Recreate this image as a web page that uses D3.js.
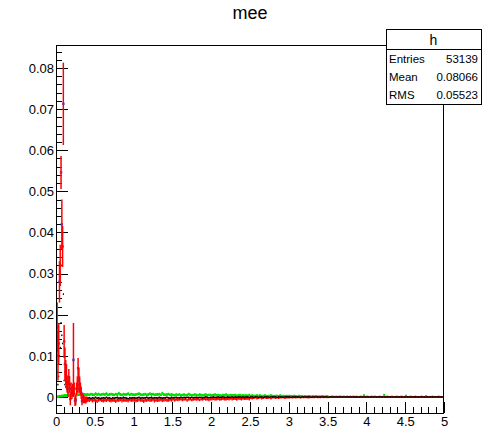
<!DOCTYPE html>
<html><head><meta charset="utf-8">
<script src="https://cdn.jsdelivr.net/npm/d3@7"></script>
<style>
body{margin:0;background:#fff}
svg{display:block}
text{font-family:"Liberation Sans",Arial,Helvetica,sans-serif;fill:#000}
</style>
</head><body>
<svg id="c" width="491" height="431"></svg>
<script>
// ---------------- DATA ----------------
const UNIT = 1e-4;                 // histogram contents below are in units of 1e-4
const title = "mee";
const statsName = "h";
const statsLabels = ["Entries", "Mean", "RMS"];
const statsValues = ["53139", "0.08066", "0.05523"];

const xTicks = [0, 0.5, 1, 1.5, 2, 2.5, 3, 3.5, 4, 4.5, 5];
const xTickLabels = ["0", "0.5", "1", "1.5", "2", "2.5", "3", "3.5", "4", "4.5", "5"];
const yTicks = [0, 0.01, 0.02, 0.03, 0.04, 0.05, 0.06, 0.07, 0.08];
const yTickLabels = ["0", "0.01", "0.02", "0.03", "0.04", "0.05", "0.06", "0.07", "0.08"];

// fine binning of the low-mass region: 0.00 - 0.40, width 0.01
const peakStart = 0.0, peakWidth = 0.01;
const redPeak = [120,170,100,130,280,320,546,420,366,713, 135,80,60,50,30,20,48,30,-5,20,
                 10,17,90,20,-10,-8,20,30,70,40, 30,20,10,-10,0,-5,-6,-8,-7,-6];
const redPeakErr = [90,60,60,50,50,50,40,60,50,100, 40,40,30,30,20,20,20,20,15,15,
                    15,15,90,15,12,12,15,20,25,30, 20,15,15,10,10,10,8,8,8,7];
const greenPeak = [0,0,1,1,2,2,2,3,2,3, 3,4,3,4,3,4,5,4,3,5, 4,5,4,5,6,5,4,6,5,6, 5,6,7,5,6,5,7,6,5,6];
const blackPeak = [40,60,30,50,100,120,180,150,130,250, 40,30,25,20,15,10,20,15,0,10,
                   5,8,40,10,-5,-4,10,15,22,20, 15,10,5,-5,0,-3,-3,-4,-3,-3];

// coarse binning above: 0.40 - 5.00, width 0.02
const tailStart = 0.40, tailWidth = 0.02;
const greenTail = [
 6,5,7,6,5,8,6,7,5,6,  7,6,8,5,6,7,6,5,7,6,  9,6,5,7,6,6,8,5,7,6,  5,6,7,8,6,5,6,7,5,6,
 8,6,7,5,6,6,7,5,9,6,  5,6,7,5,6,5,4,6,5,6,  4,5,6,4,5,7,5,4,5,6,  5,4,6,5,4,5,6,4,5,5,
 4,5,6,4,5,4,3,5,4,6,  4,3,5,4,4,5,3,4,5,3,  4,3,4,3,5,3,4,3,3,4,  3,4,2,3,4,3,2,3,4,3,
 2,3,3,2,4,2,3,2,3,2,  3,2,2,3,2,1,3,2,2,1,  2,1,2,2,1,2,1,2,1,1,  1,2,1,1,2,1,0,1,1,0,
 1,0,1,1,0,1,0,1,0,1,  0,1,0,1,0,0,1,0,4,0,  1,0,0,1,0,1,0,0,1,0,  0,5,0,1,0,0,1,0,0,1,
 0,0,1,0,0,3,0,0,1,0,  0,1,0,0,0,1,0,0,2,0,  0,0,1,0,0,0,1,0,0,0];
const redTail = [
 -7,-8,-6,-9,-7,-8,-10,-7,-6,-8,  -9,-7,-8,-6,-8,-9,-7,-8,-10,-7,  -8,-6,-9,-7,-8,-7,-9,-6,-8,-7,
 -7,-9,-8,-6,-7,-8,-10,-7,-8,-6,  -8,-7,-6,-9,-7,-8,-7,-6,-8,-7,  -6,-8,-7,-6,-7,-5,-8,-6,-7,-6,
 -5,-7,-6,-5,-8,-6,-5,-7,-6,-5,  -6,-5,-7,-5,-6,-4,-6,-5,-7,-5,  -5,-4,-6,-5,-4,-6,-5,-4,-5,-6,
 -4,-5,-3,-5,-4,-4,-6,-3,-4,-5,  -3,-4,-4,-3,-5,-3,-4,-3,-2,-4,  -3,-2,-4,-3,-2,-3,-3,-2,-4,-2,
 -2,-3,-2,-3,-2,-2,-1,-3,-2,-2,  -2,-1,-2,-1,-2,-1,-1,-2,-1,-1,  -1,-1,-2,-1,0,-1,-1,0,-1,-1,
 -1,0,-1,0,-1,-1,0,-1,0,0,  0,-1,0,0,-1,0,0,-1,0,0,  0,0,-1,0,0,0,0,-1,0,0,
 0,0,0,-1,0,0,0,0,0,-1,  0,0,0,0,0,-1,0,0,0,0,  0,0,0,0,0,0,-1,0,0,0,
 0,0,0,0,0,0,0,0,0,0,  0,0,0,0,0,0,0,0,0,0];
const blackTail = [
 -3,-2,-4,-2,-3,-1,-3,-2,-4,-3,  -2,-3,-1,-3,-2,-4,-2,-3,-2,-1,  -3,-2,-3,-1,-2,-3,-4,-2,-3,-2,
 -2,-3,-2,-1,-3,-2,-3,-2,-1,-3,  -2,-1,-3,-2,-2,-3,-1,-2,-3,-2,  -2,-1,-2,-3,-1,-2,-2,-1,-2,-2,
 -1,-2,-1,-2,-1,-1,-2,-1,-2,-1,  -1,-2,-1,-1,-2,-1,0,-1,-2,-1,  -1,0,-1,-1,0,-1,-1,0,-1,-1,
 0,-1,-1,0,-1,0,-1,0,0,-1,  0,-1,0,0,-1,0,0,-1,0,0,  -1,0,0,-1,0,0,0,-1,0,0,
 0,0,-1,0,0,0,-1,0,0,0,  0,-1,0,0,0,0,0,-1,0,0,  0,0,0,0,-1,0,0,0,0,0,
 0,0,0,0,0,-1,0,0,0,0,  0,0,0,0,0,0,0,0,0,0,  0,0,0,0,0,0,0,0,0,0,
 0,0,0,0,0,0,0,0,0,0,  0,0,0,0,0,0,0,0,0,0,  0,0,0,0,0,0,0,0,0,0,
 0,0,0,0,0,0,0,0,0,0,  0,0,0,0,0,0,0,0,0,0];

// typical error-bar half heights (units 1e-4) read per mass zone
const errZoneEdges = [0, 0.4, 1.5, 2.5, 3.5, 5.0];
const greenErrZones = [2.5, 3.5, 3, 2, 1];
const blackErrZones = [2, 1.5, 1, 0.5, 0.3];
const redErrZones   = [0, 4.5, 3.5, 2, 0.8];

// ---------------- CHART ----------------
const svg = d3.select("#c");
const frame = {l: 56, r: 444, t: 45, b: 413};
const x = d3.scaleLinear().domain([0, 5]).range([frame.l, frame.r]);
const y = d3.scaleLinear().domain([-0.0039, 0.0856]).range([frame.b, frame.t]);

function zoneErr(xc, zones) {
  for (let i = 0; i < errZoneEdges.length - 1; i++)
    if (xc >= errZoneEdges[i] && xc < errZoneEdges[i + 1]) return zones[i];
  return zones[zones.length - 1];
}
function bins(peakVals, peakErrs, tailVals, zones) {
  const out = [];
  peakVals.forEach((v, i) => {
    const x0 = peakStart + i * peakWidth, x1 = x0 + peakWidth, xc = (x0 + x1) / 2;
    out.push({x0, x1, xc, v: v * UNIT, e: (peakErrs ? peakErrs[i] : zoneErr(xc, zones)) * UNIT});
  });
  tailVals.forEach((v, i) => {
    const x0 = tailStart + i * tailWidth, x1 = x0 + tailWidth, xc = (x0 + x1) / 2;
    out.push({x0, x1, xc, v: v * UNIT, e: zoneErr(xc, zones) * UNIT});
  });
  return out;
}
const greenBins = bins(greenPeak, null, greenTail, greenErrZones);
const blackBins = bins(blackPeak, null, blackTail, blackErrZones);
const redBins = bins(redPeak, redPeakErr, redTail, redErrZones);

// axes first (histograms are painted over them)
const yMinor = d3.range(-0.002, 0.0857, 0.002).filter(v => Math.abs(Math.round(v * 100) - v * 100) > 1e-6);
const xMinor = d3.range(0, 5.0001, 0.1);

svg.append("g").attr("transform", `translate(${frame.l},0)`)
  .call(d3.axisLeft(y).tickValues(yMinor).tickSize(-6).tickSizeOuter(0).tickFormat(""))
  .call(g => g.select(".domain").remove());
svg.append("g").attr("transform", `translate(${frame.l},0)`)
  .call(d3.axisLeft(y).tickValues(yTicks).tickSize(-12).tickSizeOuter(0).tickPadding(2)
    .tickFormat((d, i) => yTickLabels[i]))
  .call(g => g.select(".domain").remove())
  .call(g => g.selectAll("text").attr("font-size", 13).attr("font-family", "Liberation Sans, Arial, sans-serif"));

svg.append("g").attr("transform", `translate(0,${frame.b})`)
  .call(d3.axisBottom(x).tickValues(xMinor).tickSize(-6).tickSizeOuter(0).tickFormat(""))
  .call(g => g.select(".domain").remove());
svg.append("g").attr("transform", `translate(0,${frame.b})`)
  .call(d3.axisBottom(x).tickValues(xTicks).tickSize(-11).tickSizeOuter(0).tickPadding(4)
    .tickFormat((d, i) => xTickLabels[i]))
  .call(g => g.select(".domain").remove())
  .call(g => g.selectAll("text").attr("font-size", 13).attr("font-family", "Liberation Sans, Arial, sans-serif"));

svg.selectAll(".tick line").attr("stroke", "#000").attr("shape-rendering", "crispEdges");

// frame
svg.append("rect").attr("x", frame.l + 0.5).attr("y", frame.t + 0.5)
  .attr("width", frame.r - frame.l - 1).attr("height", frame.b - frame.t)
  .attr("fill", "none").attr("stroke", "#000").attr("stroke-width", 1)
  .attr("shape-rendering", "crispEdges");

svg.append("defs").append("clipPath").attr("id", "fr")
  .append("rect").attr("x", frame.l + 1).attr("y", frame.t + 1)
  .attr("width", frame.r - frame.l - 2).attr("height", frame.b - frame.t - 1);

const plot = svg.append("g").attr("clip-path", "url(#fr)");

function errPath(bs) {
  const p = d3.path();
  bs.forEach(b => {
    p.moveTo(x(b.x0), y(b.v)); p.lineTo(x(b.x1), y(b.v));
    p.moveTo(x(b.xc), y(b.v - b.e)); p.lineTo(x(b.xc), y(b.v + b.e));
  });
  return p.toString();
}
function drawLines(bs, color, sw) {
  plot.append("path").attr("d", errPath(bs)).attr("fill", "none")
    .attr("stroke", color).attr("stroke-width", sw);
}
function drawMarkers(bs, color, size) {
  plot.append("g").selectAll("rect").data(bs).join("rect")
    .attr("x", d => x(d.xc) - size / 2).attr("y", d => y(d.v) - size / 2)
    .attr("width", size).attr("height", size).attr("fill", color);
}
drawLines(greenBins, "#00e000", 1.2);
drawMarkers(greenBins, "#00e000", 2);
drawLines(blackBins, "#000000", 1);

// red: shaded error band over the fine bins, markers, then error bars
const redPeakBins = redBins.slice(0, redPeak.length);
plot.append("g").selectAll("rect").data(redPeakBins).join("rect")
  .attr("x", d => x(d.x0) - 0.4).attr("width", d => x(d.x1) - x(d.x0) + 0.8)
  .attr("y", d => y(d.v + d.e)).attr("height", d => y(d.v - d.e) - y(d.v + d.e))
  .attr("fill", "rgba(255,90,90,0.55)");
drawMarkers(redPeakBins, "#4040e0", 2.4);
drawLines(redBins, "#ff0000", 1.3);
// black markers on top (visible as dark dots in the red band)
drawMarkers(blackBins.slice(redPeak.length), "#000000", 1.4);
</script>
<script>
// stats box and title drawn on top
(function(){
const svg = d3.select("#c");
svg.append("text").attr("x", 250).attr("y", 19).attr("text-anchor", "middle")
  .attr("font-size", 18).text(title);
const sb = {x: 386, y: 29, w: 95, head: 20, row: 18.2};
const sg = svg.append("g");
sg.append("rect").attr("x", sb.x + 0.5).attr("y", sb.y + 0.5)
  .attr("width", sb.w).attr("height", sb.head + sb.row * statsLabels.length)
  .attr("fill", "#fff").attr("stroke", "#000").attr("shape-rendering", "crispEdges");
sg.append("line").attr("x1", sb.x).attr("x2", sb.x + sb.w)
  .attr("y1", sb.y + sb.head + 0.5).attr("y2", sb.y + sb.head + 0.5).attr("stroke", "#000");
sg.append("text").attr("x", sb.x + sb.w / 2).attr("y", sb.y + 16).attr("text-anchor", "middle")
  .attr("font-size", 14).text(statsName);
statsLabels.forEach((lab, i) => {
  const yy = sb.y + sb.head + sb.row * i + 13.5;
  sg.append("text").attr("x", sb.x + 3).attr("y", yy).attr("font-size", 11.5).text(lab);
  sg.append("text").attr("x", sb.x + sb.w - 3).attr("y", yy).attr("text-anchor", "end")
    .attr("font-size", 11.5).text(statsValues[i]);
});
})();
</script>
</body></html>
